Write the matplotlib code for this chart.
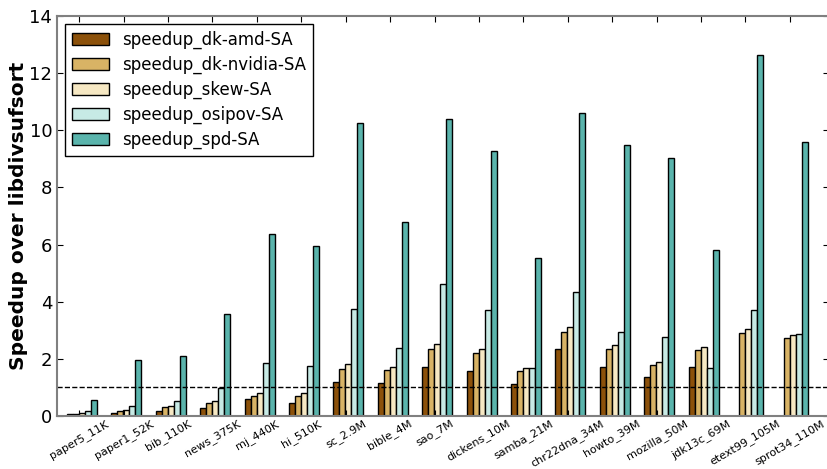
import matplotlib
matplotlib.use('Agg')
import matplotlib.pyplot as plt
import numpy as np

datasets = ['paper5_11K', 'paper1_52K', 'bib_110K', 'news_375K', 'mj_440K', 'hi_510K',
            'sc_2.9M', 'bible_4M', 'sao_7M', 'dickens_10M', 'samba_21M', 'chr22dna_34M',
            'howto_39M', 'mozilla_50M', 'jdk13c_69M', 'etext99_105M', 'sprot34_110M']

dk_amd    = [0.06, 0.12, 0.18, 0.29, 0.61, 0.46, 1.18, 1.16, 1.70, 1.59, 1.11, 2.36, 1.73, 1.35, 1.73, 0.0, 0.0]
dk_nvidia = [0.08, 0.18, 0.33, 0.46, 0.70, 0.70, 1.65, 1.60, 2.36, 2.21, 1.59, 2.94, 2.36, 1.80, 2.30, 2.92, 2.73]
skew      = [0.10, 0.22, 0.36, 0.53, 0.79, 0.80, 1.81, 1.72, 2.53, 2.35, 1.67, 3.10, 2.49, 1.90, 2.42, 3.05, 2.85]
osipov    = [0.18, 0.36, 0.54, 0.99, 1.86, 1.76, 3.75, 2.38, 4.62, 3.71, 1.68, 4.34, 2.94, 2.77, 1.69, 3.72, 2.88]
spd       = [0.57, 1.96, 2.09, 3.56, 6.36, 5.96, 10.27, 6.79, 10.38, 9.28, 5.53, 10.6, 9.49, 9.03, 5.81, 12.64, 9.59]

series = [dk_amd, dk_nvidia, skew, osipov, spd]
labels = ['speedup_dk-amd-SA', 'speedup_dk-nvidia-SA', 'speedup_skew-SA',
          'speedup_osipov-SA', 'speedup_spd-SA']
colors = ['#8c510a', '#d8b365', '#f6e8c3', '#c7eae5', '#5ab4ac']

fig = plt.figure(figsize=(8.28, 4.69), dpi=100)
ax = fig.add_axes([57 / 828, 1 - 416 / 469, 772 / 828, 400 / 469])

x = np.arange(len(datasets))
w = 0.135
for k, (vals, lab, col) in enumerate(zip(series, labels, colors)):
    ax.bar(x + 0.06 + (k - 2) * w, vals, w, color=col, edgecolor='black',
           linewidth=1, label=lab)

ax.axhline(1, color='black', linestyle='--', linewidth=1)

ax.set_xlim(-0.5, 16.88)
ax.set_ylim(0, 14)
ax.set_xticks(x)
ax.set_xticklabels(datasets, rotation=30, ha='center', fontsize=8)
ax.set_yticks(range(0, 15, 2))
ax.tick_params(axis='y', labelsize=13, direction='in', right=True, length=4)
ax.tick_params(axis='x', direction='in', top=True, length=4, pad=1.5)
for s in ax.spines.values():
    s.set_color('#808080')
    s.set_linewidth(1.5)

ax.set_ylabel('Speedup over libdivsufsort', fontsize=14.5, fontweight='bold', labelpad=1)
ax.legend(loc='upper left', fontsize=12, fancybox=False, edgecolor='black',
          framealpha=1, borderaxespad=0.5, handlelength=2.2, labelspacing=0.4)

fig.savefig('out.png', dpi=100)
